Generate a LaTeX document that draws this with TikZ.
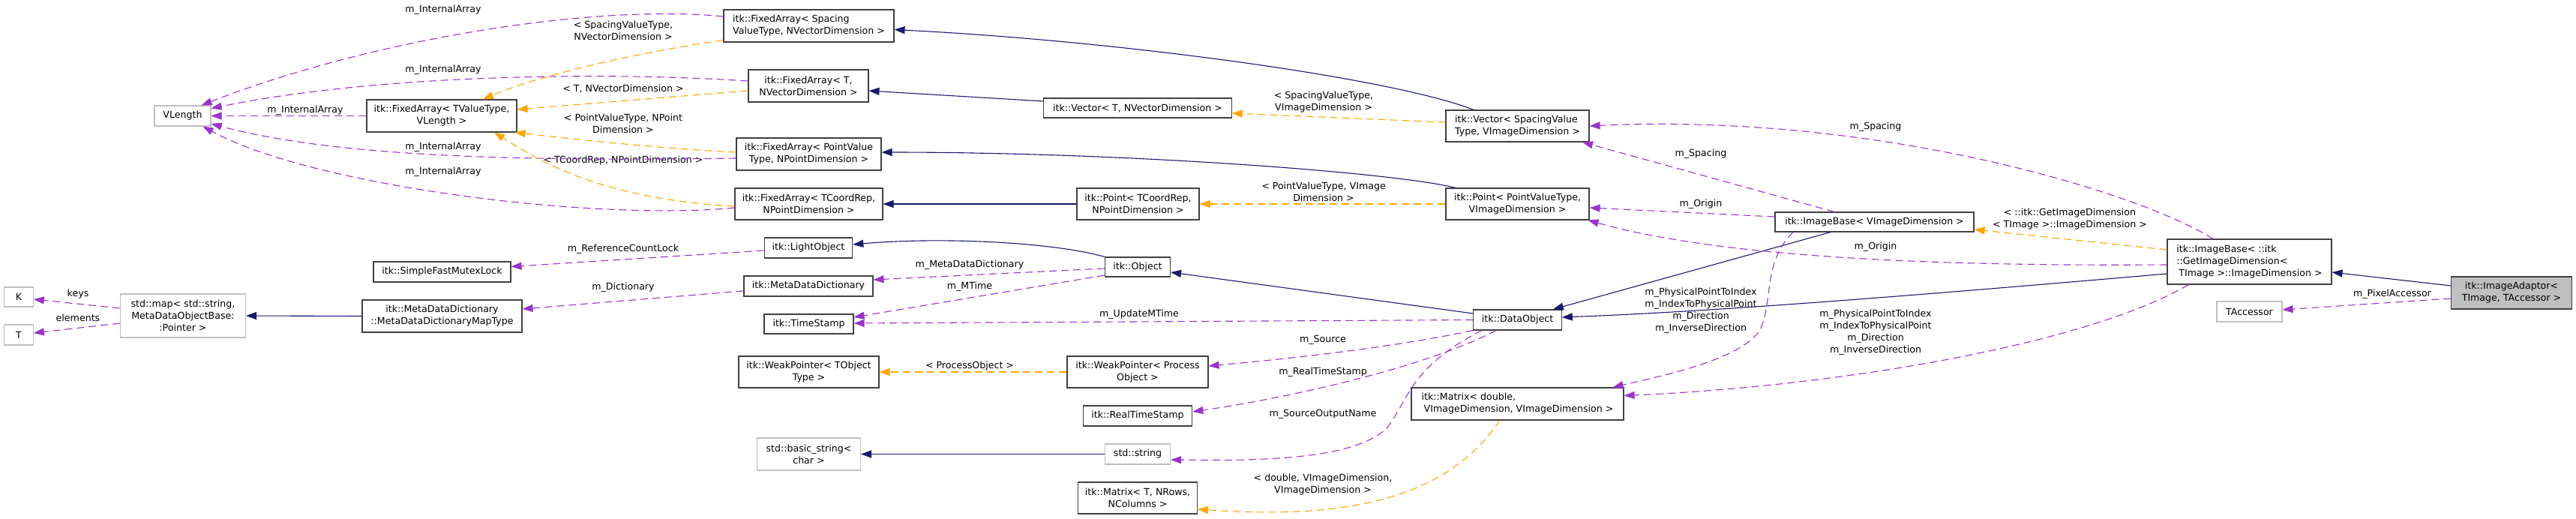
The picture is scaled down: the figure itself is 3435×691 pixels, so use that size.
\documentclass[tikz,border=0pt]{standalone}
\usepackage{fontspec}
\setmainfont{DejaVu Sans}
\usetikzlibrary{arrows.meta,calc}
\definecolor{inhcol}{HTML}{191970}
\definecolor{usecol}{HTML}{9A32CD}
\definecolor{tplcol}{HTML}{FFA500}
\definecolor{boxline}{HTML}{404040}
\definecolor{grayline}{HTML}{BFBFBF}
\definecolor{adfill}{HTML}{BFBFBF}
\begin{document}
\begin{tikzpicture}[x=1pt,y=-1pt,
  font=\fontsize{12.6pt}{16pt}\selectfont,
  cls/.style={draw=boxline, line width=1.1pt, fill=white, inner sep=1pt, align=center, text=black},
  ext/.style={cls, draw=grayline},
  hl/.style={cls, fill=adfill},
  lab/.style={inner sep=0pt, align=center, text=black},
  tipk/.style={-{Triangle[length=14pt,width=10pt]}},
  inh/.style={draw=inhcol, line width=1.1pt, tipk},
  use/.style={draw=usecol, line width=1.1pt, dash pattern=on 10pt off 6pt, tipk},
  tpl/.style={draw=tplcol, line width=1.1pt, dash pattern=on 10pt off 6pt, tipk}]
\useasboundingbox (0,0) rectangle (3435,691);

% nodes
\node[ext, minimum width=75pt, minimum height=27pt] (vlen) at (243.5,154.5) {VLength};
\node[cls, minimum width=200pt, minimum height=43pt] (faTV) at (589,154.5) {itk::FixedArray< TValueType,\\VLength >};
\node[ext, minimum width=38.5pt, minimum height=26pt] (K) at (25,396) {K};
\node[ext, minimum width=38.5pt, minimum height=27pt] (T) at (25,446.5) {T};
\node[ext, minimum width=167pt, minimum height=58pt] (map) at (244,421) {std::map< std::string,\\MetaDataObjectBase:\\:Pointer >};
\node[cls, minimum width=213pt, minimum height=43pt] (mddmt) at (589.5,421.5) {itk::MetaDataDictionary\\::MetaDataDictionaryMapType};
\node[cls, minimum width=183pt, minimum height=27pt] (sfml) at (589.5,362.5) {itk::SimpleFastMutexLock};
\node[cls, align=left, minimum width=227pt, minimum height=43pt] (faSp) at (1078.5,34.5) {itk::FixedArray< Spacing\\ValueType, NVectorDimension >};
\node[cls, minimum width=160pt, minimum height=43pt] (faT) at (1078,114.5) {itk::FixedArray< T,\\NVectorDimension >};
\node[cls, minimum width=193pt, minimum height=43pt] (faPV) at (1078.5,205.5) {itk::FixedArray< PointValue\\Type, NPointDimension >};
\node[cls, minimum width=197pt, minimum height=42pt] (faTC) at (1078.5,272) {itk::FixedArray< TCoordRep,\\NPointDimension >};
\node[cls, minimum width=117.5pt, minimum height=27pt] (light) at (1078,330.5) {itk::LightObject};
\node[cls, minimum width=250.5pt, minimum height=26pt] (vecT) at (1517,144) {itk::Vector< T, NVectorDimension >};
\node[cls, minimum width=163pt, minimum height=42pt] (ptTC) at (1517.5,272) {itk::Point< TCoordRep,\\NPointDimension >};
\node[cls, minimum width=172pt, minimum height=27pt] (mdd) at (1078,381.5) {itk::MetaDataDictionary};
\node[cls, minimum width=119pt, minimum height=26pt] (ts) at (1078.5,432) {itk::TimeStamp};
\node[cls, minimum width=187pt, minimum height=42pt] (wpT) at (1078.5,496) {itk::WeakPointer< TObject\\Type >};
\node[ext, minimum width=138pt, minimum height=43pt] (bstr) at (1078.5,605.5) {std::basic\_string<\\char >};
\node[cls, minimum width=87pt, minimum height=26pt] (obj) at (1517,356) {itk::Object};
\node[cls, minimum width=188pt, minimum height=42pt] (wpP) at (1517,496) {itk::WeakPointer< Process\\Object >};
\node[cls, minimum width=145.5pt, minimum height=27pt] (rts) at (1517,554.5) {itk::RealTimeStamp};
\node[ext, minimum width=87pt, minimum height=27pt] (str) at (1517,605.5) {std::string};
\node[cls, minimum width=158.5pt, minimum height=42pt] (matT) at (1517,664) {itk::Matrix< T, NRows,\\NColumns >};
\node[cls, align=left, minimum width=191pt, minimum height=42pt] (vecSV) at (2023.5,168) {itk::Vector< SpacingValue\\Type, VImageDimension >};
\node[cls, minimum width=191pt, minimum height=42pt] (ptPV) at (2023.5,272) {itk::Point< PointValueType,\\VImageDimension >};
\node[cls, minimum width=117.5pt, minimum height=27pt] (dobj) at (2023.5,426.5) {itk::DataObject};
\node[cls, align=left, minimum width=283pt, minimum height=43pt] (matD) at (2023.5,538.5) {itk::Matrix< double,\\\hspace*{3pt}VImageDimension, VImageDimension >};
\node[cls, minimum width=265pt, minimum height=26pt] (ibV) at (2499.5,296) {itk::ImageBase< VImageDimension >};
\node[cls, align=left, minimum width=219pt, minimum height=60pt] (ibI) at (2999.5,349) {itk::ImageBase< ::itk\\::GetImageDimension<\\\hspace*{3pt}TImage >::ImageDimension >};
\node[hl, minimum width=160.5pt, minimum height=43pt] (adapt) at (3349,390.5) {itk::ImageAdaptor<\\TImage, TAccessor >};
\node[ext, minimum width=87pt, minimum height=27pt] (tacc) at (2999.5,415.5) {TAccessor};

% labels
\node[lab] (la) at (591,13) {m\_InternalArray};
\node[lab] (lb) at (591,93) {m\_InternalArray};
\node[lab] (lc) at (407,147) {m\_InternalArray};
\node[lab] (ld) at (591,196) {m\_InternalArray};
\node[lab] (le) at (591,229) {m\_InternalArray};
\node[lab] (lf) at (831,40.5) {< SpacingValueType,\\NVectorDimension >};
\node[lab] (lg) at (831,118) {< T, NVectorDimension >};
\node[lab] (lh) at (831,165) {< PointValueType, NPoint\\Dimension >};
\node[lab] (li) at (831,214) {< TCoordRep, NPointDimension >};
\node[lab] (lz1) at (831,332) {m\_ReferenceCountLock};
\node[lab] (lz2) at (831,383) {m\_Dictionary};
\node[lab] (lz3) at (1293,353) {m\_MetaDataDictionary};
\node[lab] (lz4) at (1293,382) {m\_MTime};
\node[lab] (lz5) at (1519,419) {m\_UpdateMTime};
\node[lab] (lw) at (1293,488) {< ProcessObject >};
\node[lab] (lz6) at (1764,453) {m\_Source};
\node[lab] (lz7) at (1764,496) {m\_RealTimeStamp};
\node[lab] (lz8) at (1764,552) {m\_SourceOutputName};
\node[lab] (lx) at (1764,646) {< double, VImageDimension,\\VImageDimension >};
\node[lab] (lu) at (1765,136) {< SpacingValueType,\\VImageDimension >};
\node[lab] (lv) at (1765,256) {< PointValueType, VImage\\Dimension >};
\node[lab] (lz9) at (2268,205) {m\_Spacing};
\node[lab] (lz11) at (2268,272) {m\_Origin};
\node[lab] (lz13) at (2268,414) {m\_PhysicalPointToIndex\\m\_IndexToPhysicalPoint\\m\_Direction\\m\_InverseDirection};
\node[lab] (lz10) at (2501,169) {m\_Spacing};
\node[lab] (lz12) at (2501,329) {m\_Origin};
\node[lab] (ly) at (2760,292) {< ::itk::GetImageDimension\\< TImage >::ImageDimension >};
\node[lab] (lz14) at (2501,443) {m\_PhysicalPointToIndex\\m\_IndexToPhysicalPoint\\m\_Direction\\m\_InverseDirection};
\node[lab] (lz15) at (3190,392) {m\_PixelAccessor};
\node[lab] (lz16) at (104,392) {keys};
\node[lab] (lz17) at (104,424) {elements};

% usage edges to VLength
\draw[use] ($(faSp.west)+(0,-12.5)$) .. controls (800,5) and (500,50) .. ($(vlen.north east)+(-13,0)$);
\draw[use] ($(faT.west)+(0,-6.5)$) .. controls (800,95) and (500,100) .. ($(vlen.east)+(0,-10)$);
\draw[use] (faTV.west) -- (vlen.east);
\draw[use] ($(faPV.west)+(0,5.5)$) .. controls (700,215) and (450,210) .. ($(vlen.east)+(0,10.5)$);
\draw[use] ($(faTC.west)+(0,5)$) .. controls (800,295) and (420,250) .. ($(vlen.south east)+(-11,0)$);

% template edges to FixedArray<TValueType,VLength>
\draw[tpl] ($(faSp.south west)+(0,-3)$) .. controls (850,70) and (720,100) .. ($(faTV.north)+(55,0)$);
\draw[tpl] ($(faT.west)+(0,6.5)$) -- ($(faTV.east)+(0,-8.5)$);
\draw[tpl] ($(faPV.west)+(0,-2.5)$) .. controls (880,198) and (760,185) .. ($(faTV.south east)+(-3,0)$);
\draw[tpl] ($(faTC.west)+(0,3)$) .. controls (800,265) and (720,215) .. ($(faTV.south)+(70,0)$);

% inheritance
\draw[inh] ($(vecSV.north)+(-58.5,0)$) .. controls (1860,105) and (1500,55) .. ($(faSp.east)+(0,5)$);
\draw[inh] ($(vecT.west)+(0,-9)$) -- ($(faT.east)+(0,6.5)$);
\draw[inh] ($(ptPV.north)+(-82.5,0)$) .. controls (1860,230) and (1500,203) .. ($(faPV.east)+(0,-2.5)$);
\draw[inh] (ptTC.west) -- (faTC.east);
\draw[inh] (obj.north west) .. controls (1400,322) and (1250,316) .. ($(light.east)+(0,-4.5)$);
\draw[inh] (str.west) -- (bstr.east);
\draw[inh] ($(dobj.west)+(0,-8.5)$) -- ($(obj.east)+(0,7)$);
\draw[inh] ($(ibV.south)+(-58.5,0)$) -- ($(dobj.north east)+(-12,0)$);
\draw[inh] ($(ibI.west)+(0,16)$) .. controls (2600,390) and (2300,415) .. ($(dobj.east)+(0,-3.5)$);
\draw[inh] ($(adapt.west)+(0,-9.5)$) -- ($(ibI.east)+(0,14)$);
\draw[inh] (mddmt.west) -- (map.east);

% template instances
\draw[tpl] ($(vecSV.west)+(0,-5)$) -- ($(vecT.east)+(0,7)$);
\draw[tpl] (ptPV.west) -- (ptTC.east);
\draw[tpl] (wpP.west) -- (wpT.east);
\draw[tpl] ($(matD.south)+(-23.5,0)$) .. controls (1920,680) and (1760,690) .. ($(matT.east)+(0,15)$);
\draw[tpl] ($(ibI.west)+(0,-16)$) -- ($(ibV.east)+(0,10)$);

% usage
\draw[use] ($(light.west)+(0,3.5)$) -- ($(sfml.east)+(0,-7)$);
\draw[use] ($(mdd.west)+(0,6.5)$) -- ($(mddmt.east)+(0,-9.5)$);
\draw[use] ($(obj.west)+(0,2)$) -- ($(mdd.east)+(0,-8.5)$);
\draw[use] ($(obj.west)+(0,11)$) -- ($(ts.east)+(0,-9)$);
\draw[use] (dobj.west) -- ($(ts.east)+(0,-1)$);
\draw[use] (dobj.south west) .. controls (1850,465) and (1700,480) .. ($(wpP.east)+(0,-8)$);
\draw[use] ($(dobj.south)+(-28.5,0)$) .. controls (1900,490) and (1720,530) .. ($(rts.east)+(0,-5.5)$);
\draw[use] ($(dobj.south)+(-47.5,0)$) .. controls (1880,490) and (1880,530) .. (1850,570) .. controls (1810,610) and (1700,615) .. ($(str.east)+(0,7.5)$);
\draw[use] ($(ibV.north)+(-53.5,0)$) -- ($(vecSV.south east)+(-9.5,0)$);
\draw[use] ($(ibI.north)+(-48.5,0)$) .. controls (2850,255) and (2500,150) .. (vecSV.east);
\draw[use] ($(ibV.west)+(0,-7)$) -- ($(ptPV.east)+(0,5)$);
\draw[use] ($(ibI.west)+(0,4)$) .. controls (2600,355) and (2300,345) .. ($(ptPV.south east)+(-2,0)$);
\draw[use] ($(ibV.south)+(-108.5,0)$) .. controls (2350,350) and (2365,400) .. (2347,440) .. controls (2320,480) and (2220,500) .. ($(matD.north east)+(-15,0)$);
\draw[use] ($(ibI.south west)+(29,0)$) .. controls (2780,460) and (2450,515) .. ($(matD.east)+(0,-11)$);
\draw[use] ($(adapt.west)+(0,7.5)$) -- ($(tacc.east)+(0,-2.5)$);
\draw[use] ($(map.west)+(0,-10)$) -- ($(K.east)+(0,3)$);
\draw[use] ($(map.west)+(0,10)$) -- ($(T.east)+(0,-2.5)$);
\end{tikzpicture}
\end{document}
